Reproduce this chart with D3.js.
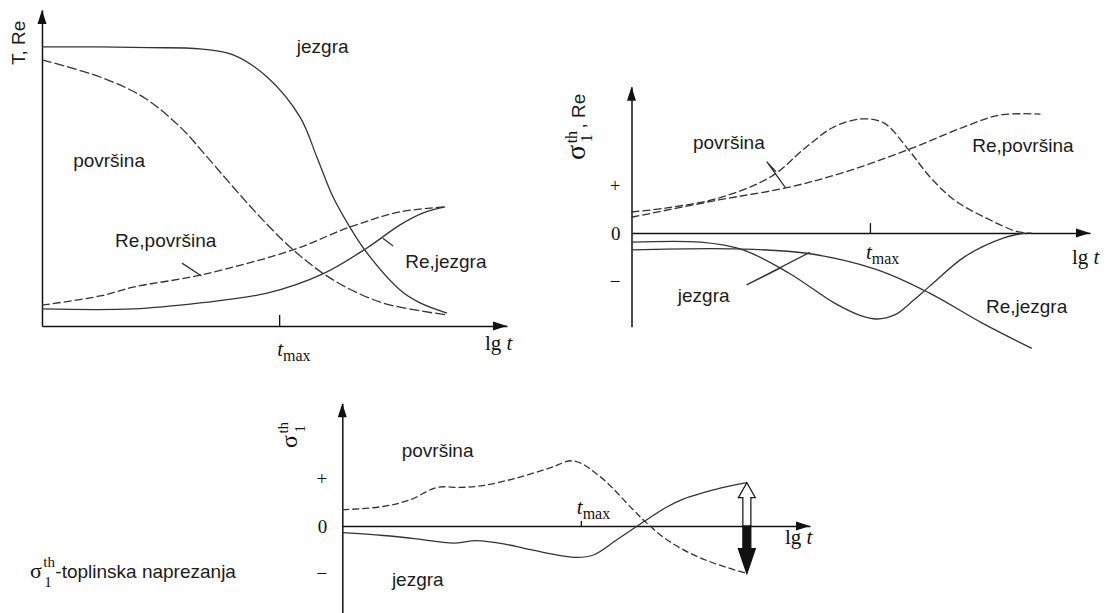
<!DOCTYPE html>
<html>
<head>
<meta charset="utf-8">
<script src="https://cdn.jsdelivr.net/npm/d3@7"></script>
<style>
  body { margin: 0; background: #fff; }
  svg  { display: block; }
  .lbl { font-family: "Liberation Sans", Arial, sans-serif; font-size: 19px; fill: #1b1b1b; }
  .ser { font-family: "Liberation Serif", "Times New Roman", serif; fill: #111; }
</style>
</head>
<body>
<script>
// ---- data (x = lg t, arbitrary units 0..10) ----
var tmaxValues = [5.10, 5.20, 5.10];

// panel 1: T, Re
var p1JezgraT   = [[0,8.83],[1.25,8.83],[2.32,8.81],[3.40,8.77],[4.11,8.58],[4.84,7.88],[5.55,6.61],[5.91,5.35],[6.26,4.08],[6.62,3.13],[6.99,2.31],[7.70,1.14],[8.13,0.73],[8.71,0.41]];
var p1PovrsinaT = [[0,8.42],[1.25,7.88],[2.17,7.25],[2.97,6.30],[3.55,5.35],[4.11,4.40],[4.69,3.45],[5.40,2.41],[6.26,1.46],[7.33,0.73],[8.73,0.35]];
var p1RePovrsina = [[0,0.66],[1.25,0.95],[1.96,1.23],[3.40,1.61],[5.40,2.41],[6.62,3.13],[7.70,3.61],[8.67,3.77]];
var p1ReJezgra   = [[0,0.54],[1.96,0.54],[3.40,0.73],[4.84,1.04],[6.04,1.65],[6.99,2.47],[7.70,3.20],[8.20,3.58],[8.67,3.77]];

// panel 2: sigma, Re
var p2Povrsina   = [[0,0.44],[0.74,0.52],[1.90,0.73],[3.05,1.18],[3.82,1.80],[4.43,2.22],[5.04,2.38],[5.51,2.29],[6.04,1.74],[6.50,1.18],[7.04,0.69],[7.66,0.35],[8.42,0.03],[8.73,0.0]];
var p2RePovrsina = [[0,0.33],[1.90,0.69],[3.36,0.94],[4.58,1.25],[6.12,1.77],[7.27,2.22],[8.04,2.46],[8.92,2.48]];
var p2Jezgra     = [[0,-0.19],[1.51,-0.19],[2.43,-0.35],[3.43,-0.83],[4.43,-1.46],[5.00,-1.72],[5.35,-1.79],[5.75,-1.70],[6.15,-1.40],[6.50,-1.11],[7.27,-0.49],[8.12,-0.10],[8.58,0.0]];
var p2ReJezgra   = [[0,-0.35],[2.28,-0.33],[3.82,-0.42],[5.35,-0.76],[6.50,-1.25],[7.66,-1.88],[8.73,-2.40]];

// panel 3: sigma
var p3Povrsina = [[0,0.34],[0.87,0.41],[1.45,0.55],[2.02,0.81],[2.52,0.81],[3.01,0.85],[3.73,1.01],[4.44,1.22],[4.94,1.37],[5.51,1.04],[6.22,0.34],[6.51,0.06],[6.94,-0.29],[7.65,-0.67],[8.65,-1.00]];
var p3Jezgra   = [[0,-0.14],[0.88,-0.20],[1.59,-0.27],[2.37,-0.36],[2.87,-0.31],[3.52,-0.39],[4.08,-0.51],[5.01,-0.66],[5.37,-0.61],[5.87,-0.29],[6.51,0.13],[6.94,0.40],[7.30,0.57],[7.65,0.68],[8.10,0.80],[8.65,0.91]];

var signTicks  = [1, 0, -1];
var signLabels = ['+', '0', '\u2212'];

var width  = 1112;
var height = 613;

var smooth = d3.curveCatmullRom.alpha(0.5);

var svg = d3.select('body')
  .append('svg')
    .attr('width', width)
    .attr('height', height);

function panel(xr, yr, yd) {
  return {
    x: d3.scaleLinear().domain([0, 10]).range(xr),
    y: d3.scaleLinear().domain(yd).range(yr),
    g: svg.append('g')
  };
}

var p1 = panel([42, 507], [326, 10], [0, 10]);
var p2 = panel([631.5, 1090], [326.7, 86.7], [-1.95, 3.05]);
var p3 = panel([342.3, 810], [613, 403.3], [-1.83, 2.58]);

function axes(p, tmax, tickLen, withSigns, pad) {
  var y0 = p.y(0);
  var xAxis = d3.axisBottom(p.x)
      .tickValues([tmax])
      .tickFormat('')
      .tickSizeInner(-tickLen)
      .tickSizeOuter(0);
  var gx = p.g.append('g')
      .attr('transform', 'translate(0,' + y0 + ')')
      .call(xAxis);

  var yAxis = d3.axisLeft(p.y)
      .tickValues(withSigns ? signTicks : [])
      .tickFormat(function (d, i) { return signLabels[i]; })
      .tickSize(0)
      .tickPadding(pad)
      .tickSizeOuter(0);
  var gy = p.g.append('g')
      .attr('transform', 'translate(' + p.x(0) + ',0)')
      .call(yAxis);

  [gx, gy].forEach(function (g) {
    g.select('.domain').attr('stroke', '#111').attr('stroke-width', 1.5);
    g.selectAll('.tick line').attr('stroke', '#111').attr('stroke-width', 1.3);
    g.selectAll('.tick text')
      .attr('font-family', '"Liberation Serif", "Times New Roman", serif')
      .attr('font-size', 19)
      .attr('fill', '#111');
  });

  // arrow heads
  var xe = p.x.range()[1], yt = p.y.range()[1], xa = p.x(0);
  p.g.append('path')
    .attr('d', 'M' + xe + ',' + y0 + 'L' + (xe - 14) + ',' + (y0 - 4.5) + 'L' + (xe - 14) + ',' + (y0 + 4.5) + 'Z')
    .attr('fill', '#111');
  p.g.append('path')
    .attr('d', 'M' + xa + ',' + yt + 'L' + (xa - 4.5) + ',' + (yt + 14) + 'L' + (xa + 4.5) + ',' + (yt + 14) + 'Z')
    .attr('fill', '#111');
}

function curve(p, data, dash, c) {
  var line = d3.line()
      .x(function (d) { return p.x(d[0]); })
      .y(function (d) { return p.y(d[1]); })
      .curve(c || smooth);
  p.g.append('path')
    .attr('d', line(data))
    .attr('fill', 'none')
    .attr('stroke', '#333')
    .attr('stroke-width', 1.3)
    .attr('stroke-dasharray', dash || null);
}

function leader(p, pts) {
  curve(p, pts, null, d3.curveLinear);
}

function label(p, text, x, y) {
  p.g.append('text').attr('class', 'lbl')
    .attr('x', p.x(x)).attr('y', p.y(y)).text(text);
}

function tmaxLabel(p, tmax, dx, dy) {
  var t = p.g.append('text').attr('class', 'ser')
    .attr('x', p.x(tmax) + dx).attr('y', p.y(0) + dy);
  t.append('tspan').attr('font-size', 21).attr('font-style', 'italic').text('t');
  t.append('tspan').attr('font-size', 16).attr('dy', 5).text('max');
}

function lgLabel(p, dx, dy) {
  var t = p.g.append('text').attr('class', 'ser')
    .attr('x', p.x.range()[1] + dx).attr('y', p.y(0) + dy).attr('font-size', 21);
  t.append('tspan').text('lg ');
  t.append('tspan').attr('font-style', 'italic').text('t');
}

// σ with stacked "th" / "1"; returns its length along the baseline
function sigma(g, size, small, supV, subV) {
  g.append('text').attr('class', 'ser').attr('font-size', size).text('\u03c3');
  var w = size * 0.56;
  g.append('text').attr('class', 'ser').attr('font-size', small)
    .attr('x', w + 1).attr('y', supV).text('th');
  g.append('text').attr('class', 'ser').attr('font-size', small)
    .attr('x', w + 2).attr('y', subV).text('1');
  return w + small * 0.8;
}

// ---- panel 1 ----
axes(p1, tmaxValues[0], 11, false, 0);
curve(p1, p1JezgraT);
curve(p1, p1PovrsinaT, '10,3');
curve(p1, p1RePovrsina, '8,3');
curve(p1, p1ReJezgra);
leader(p1, [[3.01, 1.99], [3.43, 1.58]]);
leader(p1, [[7.33, 2.78], [7.55, 2.53]]);
label(p1, 'jezgra', 5.48, 8.64);
label(p1, 'povr\u0161ina', 0.67, 5.03);
label(p1, 'Re,povr\u0161ina', 1.57, 2.50);
label(p1, 'Re,jezgra', 7.81, 1.84);
tmaxLabel(p1, tmaxValues[0], -2, 30);
lgLabel(p1, -22, 24);
p1.g.append('text').attr('class', 'lbl')
  .attr('transform', 'translate(' + (p1.x(0) - 17) + ',65) rotate(-90)')
  .attr('font-size', 18)
  .text('T, Re');

// ---- panel 2 ----
axes(p2, tmaxValues[1], 10, true, 11);
curve(p2, p2Povrsina, '8,3');
curve(p2, p2RePovrsina, '8,3');
curve(p2, p2Jezgra);
curve(p2, p2ReJezgra);
leader(p2, [[3.15, 1.28], [2.95, 1.49], [3.36, 0.94]]);
leader(p2, [[3.24, -0.73], [2.51, -1.08], [3.89, -0.40]]);
label(p2, 'povr\u0161ina', 1.34, 1.75);
label(p2, 'Re,povr\u0161ina', 7.43, 1.70);
label(p2, 'jezgra', 1.01, -1.43);
label(p2, 'Re,jezgra', 7.73, -1.67);
tmaxLabel(p2, tmaxValues[1], -4, 26);
lgLabel(p2, -18, 31);
var ly2 = p2.g.append('g').attr('transform', 'translate(585,160) rotate(-90)');
var s2 = sigma(ly2, 28, 16, -8, 7);
ly2.append('text').attr('class', 'lbl').attr('font-size', 15).attr('x', s2 + 3).text(', Re');

// ---- panel 3 ----
axes(p3, tmaxValues[2], 5, true, 15);
curve(p3, p3Povrsina, '7,3');
curve(p3, p3Jezgra);
label(p3, 'povr\u0161ina', 1.27, 1.46);
label(p3, 'jezgra', 1.06, -1.26);
tmaxLabel(p3, tmaxValues[2], -4, -12);
lgLabel(p3, -25, 18);
var ly3 = p3.g.append('g').attr('transform', 'translate(297,448) rotate(-90)');
sigma(ly3, 24, 15, -9, 8);

function blockArrow(p, xv, yv, hollow, headLen) {
  var cx = p.x(xv), base = p.y(0), tip = p.y(yv);
  var dir = tip < base ? -1 : 1;
  var neck = tip - dir * headLen;
  var sw = 4, hw = 8.5;
  var d = 'M' + (cx - sw) + ',' + base + 'L' + (cx - sw) + ',' + neck + 'L' + (cx - hw) + ',' + neck +
          'L' + cx + ',' + tip + 'L' + (cx + hw) + ',' + neck + 'L' + (cx + sw) + ',' + neck +
          'L' + (cx + sw) + ',' + base + 'Z';
  p.g.append('path')
    .attr('d', d)
    .attr('fill', hollow ? '#fff' : '#111')
    .attr('stroke', '#111')
    .attr('stroke-width', 1.2);
}
var last = p3Jezgra.length - 1;
blockArrow(p3, p3Jezgra[last][0], p3Jezgra[last][1], true, 15);
blockArrow(p3, p3Povrsina[p3Povrsina.length - 1][0], p3Povrsina[p3Povrsina.length - 1][1], false, 25);

// caption
var cap = svg.append('g').attr('transform', 'translate(30,578)');
var sc = sigma(cap, 22, 15, -11, 9);
cap.append('text').attr('class', 'lbl').attr('x', sc + 1).text('-toplinska naprezanja');
</script>
</body>
</html>
